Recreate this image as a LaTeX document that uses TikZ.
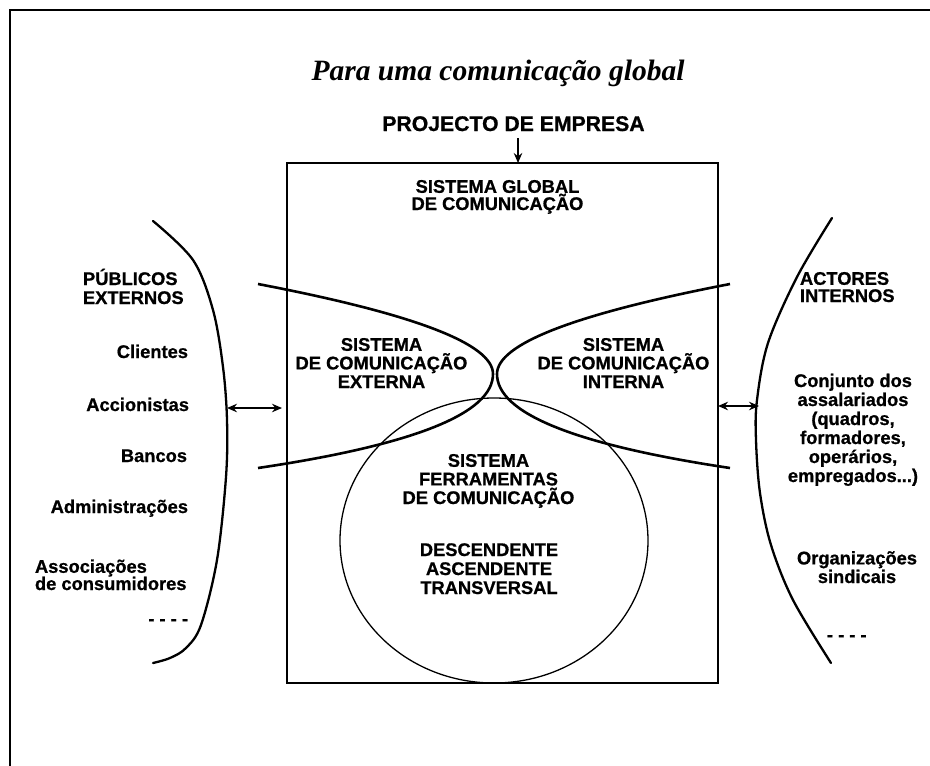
\documentclass[tikz,border=0pt]{standalone}
\usepackage{fontspec}
\setmainfont{Liberation Sans}[BoldFeatures={FakeBold=0.8}]
\newfontfamily\titlefont{Liberation Serif}
\usetikzlibrary{arrows.meta}
\begin{document}
\begin{tikzpicture}[x=1pt,y=-1pt,
  txt/.style={font=\fontsize{18.3}{18.6}\selectfont\bfseries, inner sep=0pt, outer sep=0pt, align=center},
  ttl/.style={font=\fontsize{29.5}{32}\selectfont\titlefont\bfseries\itshape, inner sep=0pt},
  arr/.style={line width=1.4pt, -{Stealth[length=10pt,width=8.5pt]}},
  dbl/.style={line width=1.4pt, {Stealth[length=10pt,width=8.5pt]}-{Stealth[length=10pt,width=8.5pt]}},
  lens/.style={line width=2.6pt},
  brk/.style={line width=2.3pt, line cap=round}]
\useasboundingbox (0,0) rectangle (930,766);
\fill[white] (0,0) rectangle (930,766);
% outer frame
\draw[line width=2pt] (9.5,766) -- (9.5,10) -- (930,10);
% title
\node[ttl, anchor=base] (title) at (498,80) {Para uma comunicação global};
\node[txt, font=\fontsize{21.2}{23}\selectfont\bfseries, anchor=base] (proj) at (513.5,131) {PROJECTO DE EMPRESA};
% main box
\node[draw, line width=2.2pt, minimum width=431pt, minimum height=520pt, inner sep=0pt, outer sep=0pt, anchor=north west] (box) at (287,163) {};
\coordinate (ptip) at (518,163);
\draw[arr, shorten <=7pt] (proj.south -| ptip) -- (ptip);
% box texts (base anchor = baseline of the last line)
\node[txt, font=\fontsize{18.3}{17.2}\selectfont\bfseries, anchor=base] (glob) at (497.5,210) {SISTEMA GLOBAL\\DE COMUNICAÇÃO};
% lens curves
\draw[lens] (258,284) .. controls (414.7,314) and (493,344) .. (493,374)
                      .. controls (493,413.3) and (414.7,444.7) .. (258,468);
\draw[lens] (730,284) .. controls (574.7,314) and (497,344) .. (497,374)
                      .. controls (497,413.3) and (574.7,444.7) .. (730,468);
% ellipse
\draw[line width=1.3pt] (494,540.5) ellipse [x radius=154, y radius=142.5];
\node[txt, anchor=base] (ext) at (381.5,388) {SISTEMA\\DE COMUNICAÇÃO\\EXTERNA};
\node[txt, anchor=base] (int) at (623.5,388) {SISTEMA\\DE COMUNICAÇÃO\\INTERNA};
\node[txt, anchor=base] (ferr) at (488.5,504) {SISTEMA\\FERRAMENTAS\\DE COMUNICAÇÃO};
\node[txt, font=\fontsize{18.3}{19}\selectfont\bfseries, anchor=base] (dir) at (489,594) {DESCENDENTE\\ASCENDENTE\\TRANSVERSAL};
% left bracket
\draw[brk] plot[smooth, tension=0.55] coordinates {(153,221) (193,260) (213,310) (223,367) (227,420) (226,477) (217,560) (201,625) (186,648) (170,658) (153,663)};
% right bracket
\draw[brk] plot[smooth, tension=0.55] coordinates {(832,218) (797,277) (768,343) (757,400) (756,440) (760,493) (771,545) (793,600) (831,663)};
% left texts
\node[txt, font=\fontsize{18.3}{19}\selectfont\bfseries, align=left, anchor=base west] (pub) at (83,304) {PÚBLICOS\\EXTERNOS};
\node[txt, anchor=base east] (cli) at (188,358) {Clientes};
\node[txt, anchor=base east] (acc) at (189,411) {Accionistas};
\node[txt, anchor=base east] (ban) at (187,462) {Bancos};
\node[txt, anchor=base east] (adm) at (188,513) {Administrações};
\node[txt, font=\fontsize{18.3}{17.2}\selectfont\bfseries, align=left, anchor=base west] (ass) at (35,590) {Associações\\de consumidores};
\node[txt, anchor=base east] (ldash) at (188,625) {- - - -};
% right texts
\node[txt, font=\fontsize{18.3}{17.2}\selectfont\bfseries, align=left, anchor=base west] (act) at (800,302) {ACTORES\\INTERNOS};
\node[txt, font=\fontsize{18.3}{19}\selectfont\bfseries, anchor=base] (conj) at (853,482) {Conjunto dos\\assalariados\\(quadros,\\formadores,\\operários,\\empregados...)};
\node[txt, anchor=base] (org) at (857,583) {Organizações\\sindicais};
\node[txt, anchor=base west] (rdash) at (827,641) {- - - -};
% double arrows
\coordinate (lb) at (227,408);
\coordinate (rb) at (759,406);
\draw[dbl, shorten >=5pt] (lb) -- (lb -| box.west);
\draw[dbl] (rb -| box.east) -- (rb);
\end{tikzpicture}
\end{document}
